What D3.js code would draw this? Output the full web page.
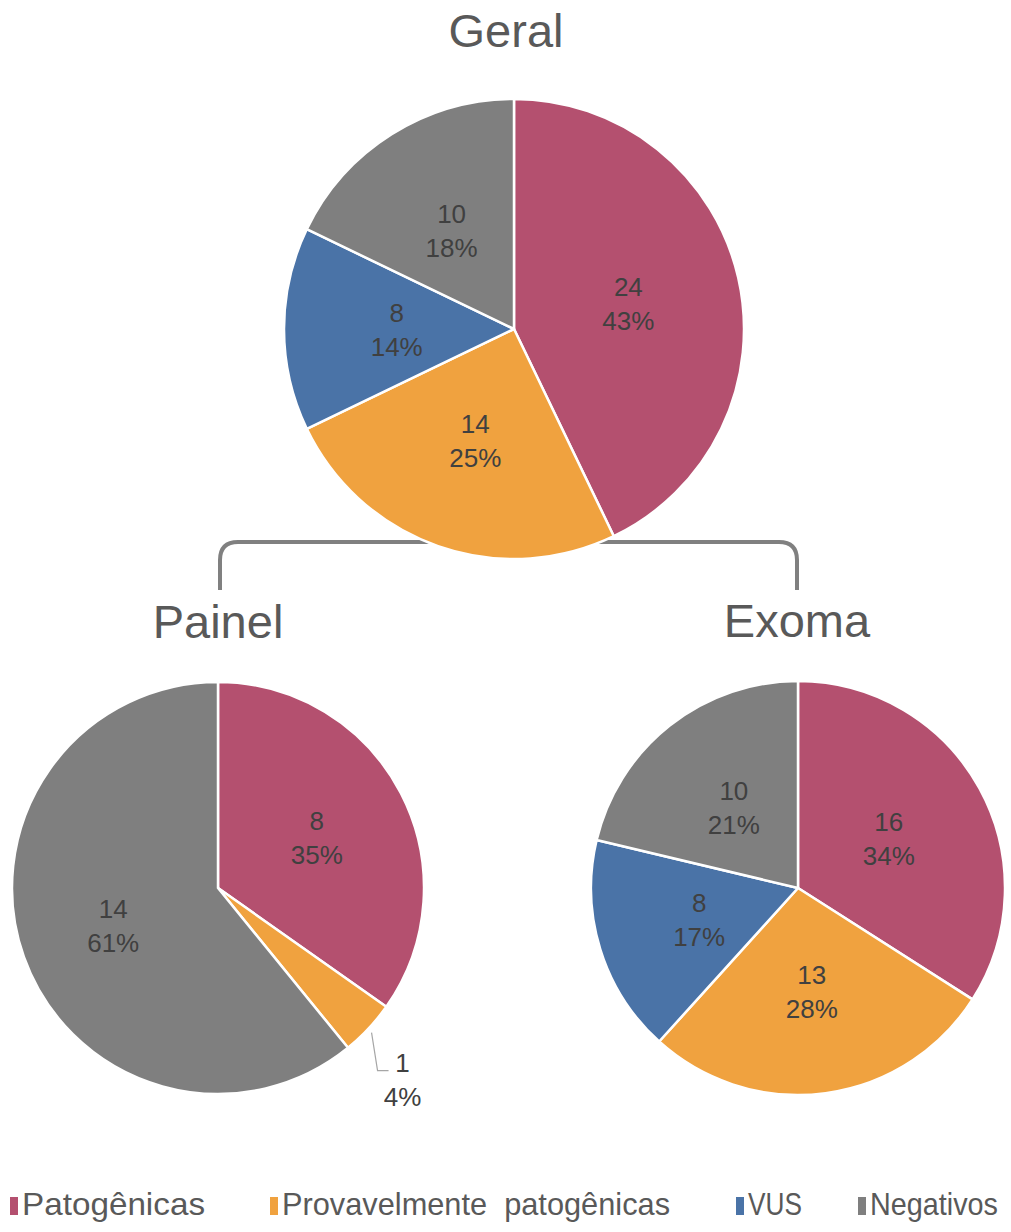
<!DOCTYPE html>
<html>
<head>
<meta charset="utf-8">
<script src="https://cdn.jsdelivr.net/npm/d3@7"></script>
<style>
  html, body { margin: 0; padding: 0; background: #ffffff; }
  svg { display: block; }
  text { font-family: "Liberation Sans", Arial, sans-serif; }
</style>
</head>
<body>
<svg id="chart" width="1011" height="1232"></svg>
<script>
// ---- data ----
const categories = ["Patogênicas", "Provavelmente  patogênicas", "VUS", "Negativos"];
const colors = ["#b4506f", "#f0a23f", "#4a73a7", "#7f7f7f"];
const pieTitles = ["Geral", "Painel", "Exoma"];
const geralValues = [24, 14, 8, 10];
const painelValues = [8, 1, 0, 14];
const exomaValues = [16, 13, 8, 10];
const geralPercents = ["43%", "25%", "14%", "18%"];
const painelPercents = ["35%", "4%", "0%", "61%"];
const exomaPercents = ["34%", "28%", "17%", "21%"];

// ---- layout ----
const W = 1011, H = 1232;
const svg = d3.select("#chart");
svg.append("rect").attr("width", W).attr("height", H).attr("fill", "#fff");

const pies = [
  { title: pieTitles[0], values: geralValues, pcts: geralPercents, cx: 514, cy: 329, r: 230, titleY: 47, titleX: 506, labR: 0.51 },
  { title: pieTitles[1], values: painelValues, pcts: painelPercents, cx: 218, cy: 888, r: 206, titleY: 638, titleX: 218, labR: 0.54, outside: [1] },
  { title: pieTitles[2], values: exomaValues, pcts: exomaPercents, cx: 798, cy: 888, r: 207, titleY: 637, titleX: 797, labR: 0.5 }
];

// bracket connecting Geral to Painel / Exoma (drawn behind pie)
const bx0 = pies[1].cx + 2, bx1 = pies[2].cx - 1, by = 542, byEnd = 590, rc = 18;
svg.append("path")
  .attr("d", `M${bx0},${byEnd} L${bx0},${by + rc} Q${bx0},${by} ${bx0 + rc},${by} L${bx1 - rc},${by} Q${bx1},${by} ${bx1},${by + rc} L${bx1},${byEnd}`)
  .attr("fill", "none").attr("stroke", "#808080").attr("stroke-width", 4);

const pieGen = d3.pie().sort(null).value(d => d);

pies.forEach(p => {
  const g = svg.append("g").attr("transform", `translate(${p.cx},${p.cy})`);
  const arcs = pieGen(p.values);
  const arc = d3.arc().innerRadius(0).outerRadius(p.r);
  const labelArc = d3.arc().innerRadius(p.r * p.labR).outerRadius(p.r * p.labR);
  const edgeArc = d3.arc().innerRadius(p.r).outerRadius(p.r);

  g.selectAll("path.slice").data(arcs.filter(a => a.value > 0)).join("path")
    .attr("class", "slice")
    .attr("d", arc)
    .attr("fill", d => colors[d.index])
    .attr("stroke", "#ffffff").attr("stroke-width", 2.5).attr("stroke-linejoin", "round");

  arcs.filter(a => a.value > 0).forEach(a => {
    const isOut = p.outside && p.outside.includes(a.index);
    let x, y;
    if (isOut) {
      const [ex, ey] = edgeArc.centroid(a);
      g.append("path")
        .attr("d", `M${ex + 3},${ey + 4} L${ex + 9},${ey + 42} L${ex + 20},${ey + 42}`)
        .attr("fill", "none").attr("stroke", "#a6a6a6").attr("stroke-width", 1.2);
      x = ex + 34; y = ey + 50;
    } else {
      [x, y] = labelArc.centroid(a);
    }
    const t = g.append("text").attr("text-anchor", "middle")
      .attr("font-size", 26).attr("fill", "#404040");
    t.append("tspan").attr("x", x).attr("y", y - 7).text(a.value);
    t.append("tspan").attr("x", x).attr("y", y + 27).text(p.pcts[a.index]);
  });

  svg.append("text").attr("x", p.titleX).attr("y", p.titleY)
    .attr("text-anchor", "middle").attr("font-size", 47).attr("fill", "#595959")
    .text(p.title);
});

// legend
const legendX = [10, 270, 736, 858];
const legendW = [183, 388, 54, 128];
const legendY = 1215;
categories.forEach((c, i) => {
  svg.append("rect").attr("x", legendX[i]).attr("y", legendY - 18)
    .attr("width", 8).attr("height", 18).attr("fill", colors[i]);
  svg.append("text").attr("x", legendX[i] + 12).attr("y", legendY)
    .attr("font-size", 32).attr("fill", "#595959")
    .attr("textLength", legendW[i]).attr("lengthAdjust", "spacingAndGlyphs")
    .attr("xml:space", "preserve")
    .text(c);
});
</script>
</body>
</html>
